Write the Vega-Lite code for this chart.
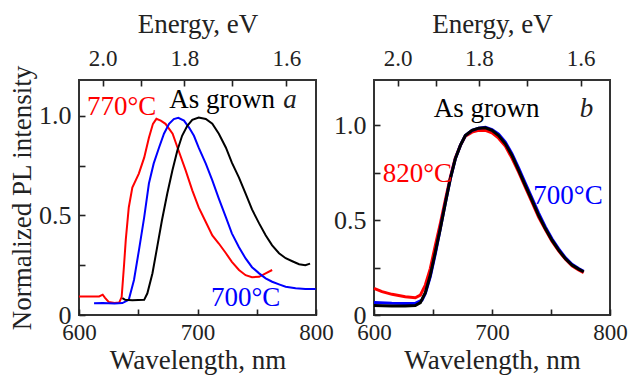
{
  "$schema": "https://vega.github.io/schema/vega-lite/v6.json",
  "padding": {"left": 7, "top": 9, "right": 5, "bottom": 5},
  "bounds": "flush",
  "spacing": 58,
  "config": {
    "font": "Liberation Serif",
    "view": {"stroke": "#333", "strokeWidth": 2},
    "axis": {"domain": false, "grid": false, "ticks": true, "zindex": 1, "tickColor": "#222", "tickWidth": 1.6, "tickSize": 6, "offset": -6, "labelColor": "#222", "titleColor": "#222", "labelFont": "Liberation Serif", "titleFont": "Liberation Serif", "titleFontWeight": "normal", "labelFlush": false, "labelOverlap": false},
    "text": {"font": "Liberation Serif"}
  },
  "resolve": {"scale": {"x": "independent", "y": "independent"}},
  "hconcat": [
    {
      "width": 237,
      "height": 235,
      "resolve": {"axis": {"x": "independent"}},
      "layer": [
        {
          "data": {"values": [
            {"series": "770°C", "wl": 600, "I": 0.093}, {"series": "770°C", "wl": 610, "I": 0.093}, {"series": "770°C", "wl": 617, "I": 0.093}, {"series": "770°C", "wl": 620, "I": 0.102}, {"series": "770°C", "wl": 622, "I": 0.086}, {"series": "770°C", "wl": 625, "I": 0.066}, {"series": "770°C", "wl": 630, "I": 0.06}, {"series": "770°C", "wl": 634, "I": 0.063}, {"series": "770°C", "wl": 636, "I": 0.09}, {"series": "770°C", "wl": 638, "I": 0.25}, {"series": "770°C", "wl": 639.5, "I": 0.38}, {"series": "770°C", "wl": 642, "I": 0.54}, {"series": "770°C", "wl": 645, "I": 0.64}, {"series": "770°C", "wl": 650.5, "I": 0.71}, {"series": "770°C", "wl": 655, "I": 0.79}, {"series": "770°C", "wl": 659, "I": 0.89}, {"series": "770°C", "wl": 662.4, "I": 0.96}, {"series": "770°C", "wl": 665.3, "I": 0.985}, {"series": "770°C", "wl": 669, "I": 0.976}, {"series": "770°C", "wl": 673, "I": 0.96}, {"series": "770°C", "wl": 679, "I": 0.91}, {"series": "770°C", "wl": 684, "I": 0.826}, {"series": "770°C", "wl": 690, "I": 0.726}, {"series": "770°C", "wl": 695.6, "I": 0.626}, {"series": "770°C", "wl": 701, "I": 0.54}, {"series": "770°C", "wl": 707, "I": 0.467}, {"series": "770°C", "wl": 712.5, "I": 0.4}, {"series": "770°C", "wl": 718, "I": 0.359}, {"series": "770°C", "wl": 724, "I": 0.31}, {"series": "770°C", "wl": 729, "I": 0.267}, {"series": "770°C", "wl": 735, "I": 0.226}, {"series": "770°C", "wl": 740.6, "I": 0.2}, {"series": "770°C", "wl": 746, "I": 0.19}, {"series": "770°C", "wl": 752, "I": 0.192}, {"series": "770°C", "wl": 757.5, "I": 0.209}, {"series": "770°C", "wl": 763, "I": 0.226},
            {"series": "700°C", "wl": 612.7, "I": 0.059}, {"series": "700°C", "wl": 620, "I": 0.06}, {"series": "700°C", "wl": 630, "I": 0.058}, {"series": "700°C", "wl": 636.6, "I": 0.06}, {"series": "700°C", "wl": 642, "I": 0.076}, {"series": "700°C", "wl": 646.4, "I": 0.176}, {"series": "700°C", "wl": 650.6, "I": 0.326}, {"series": "700°C", "wl": 655, "I": 0.49}, {"series": "700°C", "wl": 659, "I": 0.66}, {"series": "700°C", "wl": 663, "I": 0.76}, {"series": "700°C", "wl": 667.5, "I": 0.84}, {"series": "700°C", "wl": 671.7, "I": 0.91}, {"series": "700°C", "wl": 676, "I": 0.96}, {"series": "700°C", "wl": 680, "I": 0.984}, {"series": "700°C", "wl": 683.8, "I": 0.99}, {"series": "700°C", "wl": 688.6, "I": 0.976}, {"series": "700°C", "wl": 693, "I": 0.94}, {"series": "700°C", "wl": 697, "I": 0.9}, {"series": "700°C", "wl": 701, "I": 0.84}, {"series": "700°C", "wl": 707, "I": 0.76}, {"series": "700°C", "wl": 712.5, "I": 0.676}, {"series": "700°C", "wl": 718, "I": 0.584}, {"series": "700°C", "wl": 724, "I": 0.49}, {"series": "700°C", "wl": 729, "I": 0.41}, {"series": "700°C", "wl": 735, "I": 0.34}, {"series": "700°C", "wl": 740.6, "I": 0.284}, {"series": "700°C", "wl": 746, "I": 0.24}, {"series": "700°C", "wl": 752, "I": 0.209}, {"series": "700°C", "wl": 757.5, "I": 0.184}, {"series": "700°C", "wl": 763, "I": 0.167}, {"series": "700°C", "wl": 768.8, "I": 0.154}, {"series": "700°C", "wl": 774.4, "I": 0.142}, {"series": "700°C", "wl": 782.8, "I": 0.134}, {"series": "700°C", "wl": 791, "I": 0.13}, {"series": "700°C", "wl": 799.7, "I": 0.13},
            {"series": "As grown", "wl": 636.6, "I": 0.085}, {"series": "As grown", "wl": 639, "I": 0.076}, {"series": "As grown", "wl": 645, "I": 0.074}, {"series": "As grown", "wl": 650, "I": 0.075}, {"series": "As grown", "wl": 655, "I": 0.076}, {"series": "As grown", "wl": 657.7, "I": 0.109}, {"series": "As grown", "wl": 662, "I": 0.21}, {"series": "As grown", "wl": 666, "I": 0.342}, {"series": "As grown", "wl": 670, "I": 0.476}, {"series": "As grown", "wl": 674.5, "I": 0.61}, {"series": "As grown", "wl": 678.8, "I": 0.726}, {"series": "As grown", "wl": 683, "I": 0.826}, {"series": "As grown", "wl": 687, "I": 0.9}, {"series": "As grown", "wl": 691.4, "I": 0.95}, {"series": "As grown", "wl": 695.6, "I": 0.98}, {"series": "As grown", "wl": 701, "I": 0.992}, {"series": "As grown", "wl": 707, "I": 0.984}, {"series": "As grown", "wl": 712.5, "I": 0.96}, {"series": "As grown", "wl": 718, "I": 0.91}, {"series": "As grown", "wl": 724, "I": 0.84}, {"series": "As grown", "wl": 729, "I": 0.765}, {"series": "As grown", "wl": 735, "I": 0.69}, {"series": "As grown", "wl": 740.6, "I": 0.61}, {"series": "As grown", "wl": 746, "I": 0.53}, {"series": "As grown", "wl": 752, "I": 0.46}, {"series": "As grown", "wl": 757.5, "I": 0.4}, {"series": "As grown", "wl": 763, "I": 0.35}, {"series": "As grown", "wl": 768.8, "I": 0.31}, {"series": "As grown", "wl": 774.4, "I": 0.285}, {"series": "As grown", "wl": 780, "I": 0.27}, {"series": "As grown", "wl": 785.7, "I": 0.255}, {"series": "As grown", "wl": 791, "I": 0.25}, {"series": "As grown", "wl": 795, "I": 0.258}
          ]},
          "mark": {"type": "line", "strokeWidth": 2},
          "encoding": {
            "x": {"field": "wl", "type": "quantitative", "scale": {"domain": [600, 800], "nice": false, "zero": false},
                  "axis": {"orient": "bottom", "title": "Wavelength, nm", "values": [600, 650, 700, 750, 800], "labelExpr": "datum.value % 100 == 0 ? datum.label : ''", "labelFontSize": 23, "titleFontSize": 27, "labelPadding": 6, "titlePadding": 3}},
            "y": {"field": "I", "type": "quantitative", "scale": {"domain": [0, 1.18], "nice": false, "zero": false},
                  "axis": {"orient": "left", "title": "Normalized PL intensity", "values": [0, 0.25, 0.5, 0.75, 1], "labelExpr": "datum.value == 0 ? '0' : (datum.value == 0.5 || datum.value == 1) ? format(datum.value, '.1f') : ''", "labelFontSize": 26, "titleFontSize": 27, "labelPadding": 8, "titlePadding": 2}},
            "color": {"field": "series", "type": "nominal", "scale": {"domain": ["770°C", "820°C", "700°C", "As grown"], "range": ["#ff0000", "#ff0000", "#0000ff", "#000000"]}, "legend": null}
          }
        },
        {
          "data": {"values": [
            {"series": "770°C", "wl": 636, "I": 1.003},
            {"series": "As grown", "wl": 720.7, "I": 1.04},
            {"series": "700°C", "wl": 740.7, "I": 0.043}
          ]},
          "mark": {"type": "text", "fontSize": 27, "baseline": "alphabetic", "align": "center"},
          "encoding": {
            "x": {"field": "wl", "type": "quantitative", "scale": {"domain": [600, 800], "nice": false, "zero": false},
                  "axis": {"orient": "top", "title": "Energy, eV", "values": [620, 652.63, 688.89, 729.41, 775], "labelExpr": "datum.value < 630 ? '2.0' : (datum.value > 680 && datum.value < 700) ? '1.8' : datum.value > 770 ? '1.6' : ''", "labelFontSize": 23, "titleFontSize": 27, "labelPadding": 10, "titlePadding": 9}},
            "y": {"field": "I", "type": "quantitative"},
            "text": {"field": "series"},
            "color": {"field": "series", "type": "nominal", "scale": {"domain": ["770°C", "820°C", "700°C", "As grown"], "range": ["#ff0000", "#ff0000", "#0000ff", "#000000"]}, "legend": null}
          }
        },
        {
          "data": {"values": [{"panel": "a", "wl": 778, "I": 1.04}]},
          "mark": {"type": "text", "fontSize": 27, "fontStyle": "italic", "baseline": "alphabetic", "align": "center", "color": "#222"},
          "encoding": {
            "x": {"field": "wl", "type": "quantitative", "axis": null},
            "y": {"field": "I", "type": "quantitative"},
            "text": {"field": "panel"}
          }
        }
      ]
    },
    {
      "width": 236,
      "height": 235,
      "resolve": {"axis": {"x": "independent"}},
      "layer": [
        {
          "data": {"values": [
            {"series": "820°C", "wl": 600, "I": 0.14}, {"series": "820°C", "wl": 606.8, "I": 0.123}, {"series": "820°C", "wl": 615.3, "I": 0.109}, {"series": "820°C", "wl": 626.5, "I": 0.096}, {"series": "820°C", "wl": 635, "I": 0.091}, {"series": "820°C", "wl": 639.3, "I": 0.105}, {"series": "820°C", "wl": 643.5, "I": 0.158}, {"series": "820°C", "wl": 647.7, "I": 0.245}, {"series": "820°C", "wl": 652, "I": 0.368}, {"series": "820°C", "wl": 656.2, "I": 0.482}, {"series": "820°C", "wl": 660.4, "I": 0.605}, {"series": "820°C", "wl": 664.7, "I": 0.728}, {"series": "820°C", "wl": 668.9, "I": 0.828}, {"series": "820°C", "wl": 673.2, "I": 0.895}, {"series": "820°C", "wl": 677.4, "I": 0.944}, {"series": "820°C", "wl": 683.1, "I": 0.965}, {"series": "820°C", "wl": 688.7, "I": 0.974}, {"series": "820°C", "wl": 694.4, "I": 0.974}, {"series": "820°C", "wl": 700, "I": 0.961}, {"series": "820°C", "wl": 705.6, "I": 0.933}, {"series": "820°C", "wl": 711.3, "I": 0.891}, {"series": "820°C", "wl": 716.9, "I": 0.828}, {"series": "820°C", "wl": 722.6, "I": 0.754}, {"series": "820°C", "wl": 728.2, "I": 0.675}, {"series": "820°C", "wl": 733.9, "I": 0.596}, {"series": "820°C", "wl": 739.5, "I": 0.517}, {"series": "820°C", "wl": 745.2, "I": 0.451}, {"series": "820°C", "wl": 750.8, "I": 0.389}, {"series": "820°C", "wl": 756.5, "I": 0.338}, {"series": "820°C", "wl": 762.1, "I": 0.295}, {"series": "820°C", "wl": 767.8, "I": 0.259}, {"series": "820°C", "wl": 773.4, "I": 0.238}, {"series": "820°C", "wl": 777.7, "I": 0.224},
            {"series": "700°C", "wl": 600, "I": 0.066}, {"series": "700°C", "wl": 615, "I": 0.062}, {"series": "700°C", "wl": 626.5, "I": 0.061}, {"series": "700°C", "wl": 635, "I": 0.061}, {"series": "700°C", "wl": 640.7, "I": 0.079}, {"series": "700°C", "wl": 643.5, "I": 0.114}, {"series": "700°C", "wl": 647.7, "I": 0.202}, {"series": "700°C", "wl": 652, "I": 0.324}, {"series": "700°C", "wl": 656.2, "I": 0.456}, {"series": "700°C", "wl": 660.4, "I": 0.588}, {"series": "700°C", "wl": 664.7, "I": 0.719}, {"series": "700°C", "wl": 668.9, "I": 0.824}, {"series": "700°C", "wl": 673.2, "I": 0.895}, {"series": "700°C", "wl": 677.4, "I": 0.947}, {"series": "700°C", "wl": 683.1, "I": 0.974}, {"series": "700°C", "wl": 688.7, "I": 0.986}, {"series": "700°C", "wl": 694.4, "I": 0.991}, {"series": "700°C", "wl": 700, "I": 0.978}, {"series": "700°C", "wl": 705.6, "I": 0.954}, {"series": "700°C", "wl": 711.3, "I": 0.912}, {"series": "700°C", "wl": 716.9, "I": 0.851}, {"series": "700°C", "wl": 722.6, "I": 0.775}, {"series": "700°C", "wl": 728.2, "I": 0.696}, {"series": "700°C", "wl": 733.9, "I": 0.617}, {"series": "700°C", "wl": 739.5, "I": 0.538}, {"series": "700°C", "wl": 745.2, "I": 0.465}, {"series": "700°C", "wl": 750.8, "I": 0.402}, {"series": "700°C", "wl": 756.5, "I": 0.349}, {"series": "700°C", "wl": 762.1, "I": 0.303}, {"series": "700°C", "wl": 767.8, "I": 0.268}, {"series": "700°C", "wl": 773.4, "I": 0.245}, {"series": "700°C", "wl": 777.7, "I": 0.231},
            {"series": "As grown", "wl": 600, "I": 0.05}, {"series": "As grown", "wl": 615, "I": 0.048}, {"series": "As grown", "wl": 626.5, "I": 0.048}, {"series": "As grown", "wl": 635, "I": 0.05}, {"series": "As grown", "wl": 639.3, "I": 0.065}, {"series": "As grown", "wl": 643.5, "I": 0.118}, {"series": "As grown", "wl": 647.7, "I": 0.21}, {"series": "As grown", "wl": 652, "I": 0.333}, {"series": "As grown", "wl": 656.2, "I": 0.456}, {"series": "As grown", "wl": 660.4, "I": 0.588}, {"series": "As grown", "wl": 664.7, "I": 0.719}, {"series": "As grown", "wl": 668.9, "I": 0.824}, {"series": "As grown", "wl": 673.2, "I": 0.895}, {"series": "As grown", "wl": 677.4, "I": 0.947}, {"series": "As grown", "wl": 683.1, "I": 0.974}, {"series": "As grown", "wl": 688.7, "I": 0.986}, {"series": "As grown", "wl": 694.4, "I": 0.988}, {"series": "As grown", "wl": 700, "I": 0.974}, {"series": "As grown", "wl": 705.6, "I": 0.947}, {"series": "As grown", "wl": 711.3, "I": 0.903}, {"series": "As grown", "wl": 716.9, "I": 0.842}, {"series": "As grown", "wl": 722.6, "I": 0.763}, {"series": "As grown", "wl": 728.2, "I": 0.684}, {"series": "As grown", "wl": 733.9, "I": 0.605}, {"series": "As grown", "wl": 739.5, "I": 0.526}, {"series": "As grown", "wl": 745.2, "I": 0.456}, {"series": "As grown", "wl": 750.8, "I": 0.395}, {"series": "As grown", "wl": 756.5, "I": 0.342}, {"series": "As grown", "wl": 762.1, "I": 0.298}, {"series": "As grown", "wl": 767.8, "I": 0.263}, {"series": "As grown", "wl": 773.4, "I": 0.242}, {"series": "As grown", "wl": 777.7, "I": 0.228}
          ]},
          "mark": {"type": "line", "strokeWidth": 3},
          "encoding": {
            "x": {"field": "wl", "type": "quantitative", "scale": {"domain": [600, 800], "nice": false, "zero": false},
                  "axis": {"orient": "bottom", "title": "Wavelength, nm", "values": [600, 650, 700, 750, 800], "labelExpr": "datum.value % 100 == 0 ? datum.label : ''", "labelFontSize": 23, "titleFontSize": 27, "labelPadding": 6, "titlePadding": 3}},
            "y": {"field": "I", "type": "quantitative", "scale": {"domain": [0, 1.24], "nice": false, "zero": false},
                  "axis": {"orient": "left", "title": null, "values": [0, 0.25, 0.5, 0.75, 1], "labelExpr": "datum.value == 0 ? '0' : (datum.value == 0.5 || datum.value == 1) ? format(datum.value, '.1f') : ''", "labelFontSize": 26, "labelPadding": 8}},
            "color": {"field": "series", "type": "nominal", "scale": {"domain": ["770°C", "820°C", "700°C", "As grown"], "range": ["#ff0000", "#ff0000", "#0000ff", "#000000"]}, "legend": null}
          }
        },
        {
          "data": {"values": [
            {"series": "820°C", "wl": 636.7, "I": 0.7},
            {"series": "As grown", "wl": 695.5, "I": 1.047},
            {"series": "700°C", "wl": 764.4, "I": 0.587}
          ]},
          "mark": {"type": "text", "fontSize": 27, "baseline": "alphabetic", "align": "center"},
          "encoding": {
            "x": {"field": "wl", "type": "quantitative", "scale": {"domain": [600, 800], "nice": false, "zero": false},
                  "axis": {"orient": "top", "title": "Energy, eV", "values": [620, 652.63, 688.89, 729.41, 775], "labelExpr": "datum.value < 630 ? '2.0' : (datum.value > 680 && datum.value < 700) ? '1.8' : datum.value > 770 ? '1.6' : ''", "labelFontSize": 23, "titleFontSize": 27, "labelPadding": 10, "titlePadding": 9}},
            "y": {"field": "I", "type": "quantitative"},
            "text": {"field": "series"},
            "color": {"field": "series", "type": "nominal", "scale": {"domain": ["770°C", "820°C", "700°C", "As grown"], "range": ["#ff0000", "#ff0000", "#0000ff", "#000000"]}, "legend": null}
          }
        },
        {
          "data": {"values": [{"panel": "b", "wl": 780, "I": 1.047}]},
          "mark": {"type": "text", "fontSize": 27, "fontStyle": "italic", "baseline": "alphabetic", "align": "center", "color": "#222"},
          "encoding": {
            "x": {"field": "wl", "type": "quantitative", "axis": null},
            "y": {"field": "I", "type": "quantitative"},
            "text": {"field": "panel"}
          }
        }
      ]
    }
  ]
}
